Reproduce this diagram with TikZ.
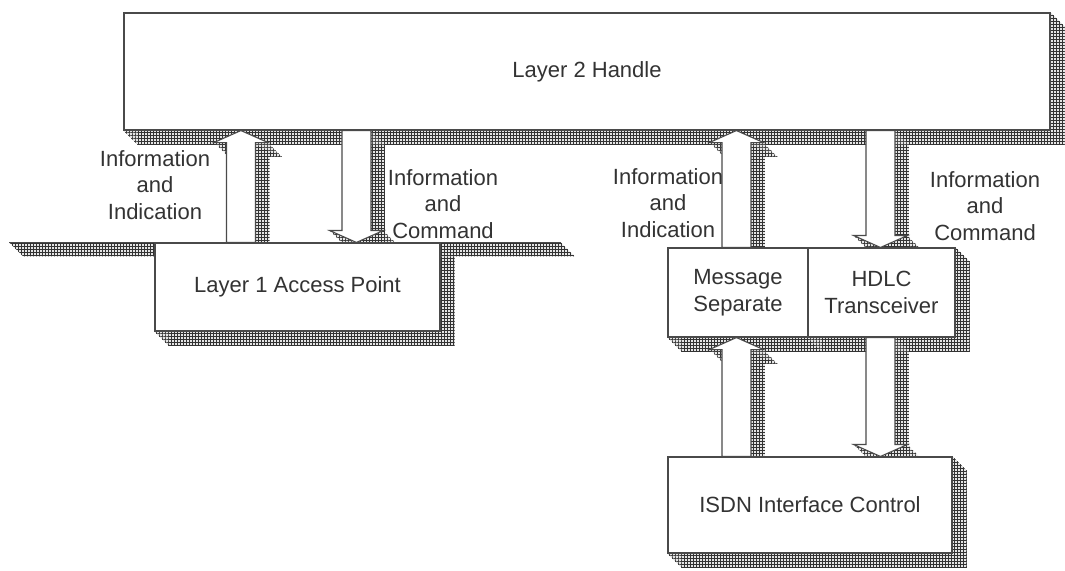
\documentclass[tikz,border=0pt]{standalone}
\usepackage{fontspec}
\setmainfont{Liberation Sans}
\usetikzlibrary{patterns,calc}
\pgfdeclarelayer{bg}
\pgfsetlayers{bg,main}
\pgfdeclarepatternformonly{finegrid}{\pgfqpoint{-1pt}{-1pt}}{\pgfqpoint{4pt}{4pt}}{\pgfqpoint{3pt}{3pt}}{%
  \pgfsetlinewidth{0.95pt}%
  \pgfpathmoveto{\pgfqpoint{0pt}{-1pt}}\pgfpathlineto{\pgfqpoint{0pt}{4pt}}%
  \pgfpathmoveto{\pgfqpoint{-1pt}{0pt}}\pgfpathlineto{\pgfqpoint{4pt}{0pt}}%
  \pgfusepath{stroke}}
\definecolor{ink}{HTML}{333333}
\definecolor{edge}{HTML}{4A4A4A}
\tikzset{
  shadebase/.style={fill=black!10},
  shadegrid/.style={pattern=finegrid,pattern color=black!80},
  box/.style={draw=edge,line width=1.1pt,fill=white,inner sep=0pt,align=center,text=ink,font=\fontsize{22}{27}\selectfont},
  lbl/.style={align=center,text=ink,font=\fontsize{22}{26.5}\selectfont,inner sep=0pt},
  arr/.style={draw=edge,line width=1.1pt,fill=white,line join=miter}
}
\def\shoff{0}
% extrusion shadow towards lower right
\newcommand\extrude[1]{\foreach \t in {1,...,14}{\def\shoff{\t}\fill[shadebase] #1; \fill[shadegrid] #1;}}
% block arrow: #1 tail, #2 tip, #3 = 1 (pointing up) or -1 (pointing down)
\newcommand\arrowpath[3]{let \p1=(#1), \p2=(#2) in
  ({\x1-14.5pt+\shoff*1pt},{\y1-\shoff*1pt}) --
  ({\x1-14.5pt+\shoff*1pt},{\y2-12pt*(#3)-\shoff*1pt}) --
  ({\x1-27pt+\shoff*1pt},{\y2-12pt*(#3)-\shoff*1pt}) --
  ({\x2+\shoff*1pt},{\y2-\shoff*1pt}) --
  ({\x1+27pt+\shoff*1pt},{\y2-12pt*(#3)-\shoff*1pt}) --
  ({\x1+14.5pt+\shoff*1pt},{\y2-12pt*(#3)-\shoff*1pt}) --
  ({\x1+14.5pt+\shoff*1pt},{\y1-\shoff*1pt}) -- cycle}
\newcommand\boxpath[1]{let \p1=(#1.north west), \p2=(#1.south east) in
  ({\x1+\shoff*1pt},{\y1-\shoff*1pt}) rectangle ({\x2+\shoff*1pt},{\y2-\shoff*1pt})}
\begin{document}
\begin{tikzpicture}[x=1pt,y=-1pt]
\useasboundingbox (0,0) rectangle (1065,570);
% boxes
\node[box,minimum width=926,minimum height=117] (L2) at (587,71.5) {Layer 2 Handle};
\node[box,minimum width=285,minimum height=88] (L1) at (297.5,287) {Layer 1 Access Point};
\node[box,minimum width=140,minimum height=89] (MS) at (738,292.5) {Message\\Separate};
\node[box,minimum width=147,minimum height=89] (HD) at (881.5,292.5) {HDLC\\Transceiver};
\node[box,minimum width=284,minimum height=96] (IS) at (810,505) {ISDN Interface Control};
% plane edge of layer 1
\coordinate (PL) at ($(L1.north west)+(-145,0)$);
\coordinate (PR) at ($(L1.north east)+(120,0)$);
% arrow end points
\coordinate (A0) at ($(L1.north west)+(86.5,0)$);
\coordinate (A1) at (A0 |- L2.south);
\coordinate (B0) at ($(L1.north west)+(202,0)$);
\coordinate (B1) at (B0 |- L2.south);
\coordinate (C0) at ($(MS.north west)+(69,0)$);
\coordinate (C1) at (C0 |- L2.south);
\coordinate (D0) at ($(HD.north west)+(73,0)$);
\coordinate (D1) at (D0 |- L2.south);
\coordinate (E0) at ($(IS.north west)+(69,0)$);
\coordinate (E1) at (E0 |- MS.south);
\coordinate (F0) at ($(IS.north west)+(213,0)$);
\coordinate (F1) at (F0 |- HD.south);
% shadows
\begin{pgfonlayer}{bg}
\fill[white] (0,0) rectangle (1065,570);
\extrude{\boxpath{L2}}
\extrude{\boxpath{L1}}
\extrude{\boxpath{MS}}
\extrude{\boxpath{HD}}
\extrude{\boxpath{IS}}
\fill[shadebase] (PL) -- (PR) -- ($(PR)+(14,14)$) -- ($(PL)+(14,14)$) -- cycle;
\fill[shadegrid] (PL) -- (PR) -- ($(PR)+(14,14)$) -- ($(PL)+(14,14)$) -- cycle;
\extrude{\arrowpath{A0}{A1}{1}}
\extrude{\arrowpath{B1}{B0}{-1}}
\extrude{\arrowpath{C0}{C1}{1}}
\extrude{\arrowpath{D1}{D0}{-1}}
\extrude{\arrowpath{E0}{E1}{1}}
\extrude{\arrowpath{F1}{F0}{-1}}
\end{pgfonlayer}
\draw[draw=edge,line width=1.1pt] (PL) -- (PR);
\draw[arr] \arrowpath{A0}{A1}{1};
\draw[arr] \arrowpath{B1}{B0}{-1};
\draw[arr] \arrowpath{C0}{C1}{1};
\draw[arr] \arrowpath{D1}{D0}{-1};
\draw[arr] \arrowpath{E0}{E1}{1};
\draw[arr] \arrowpath{F1}{F0}{-1};
% labels
\node[lbl] (i1) at (155,185) {Information\\and\\Indication};
\node[lbl] (i2) at (443,204) {Information\\and\\Command};
\node[lbl] (i3) at (668,203) {Information\\and\\Indication};
\node[lbl] (i4) at (985,206) {Information\\and\\Command};
\end{tikzpicture}
\end{document}
